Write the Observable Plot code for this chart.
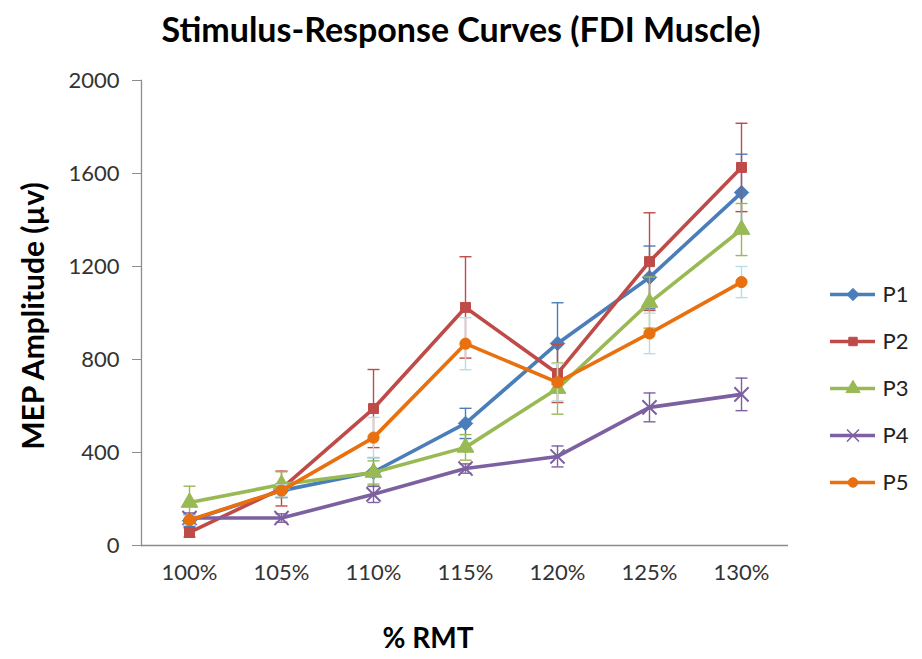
<!DOCTYPE html>
<html>
<head>
<meta charset="utf-8">
<script src="https://cdn.jsdelivr.net/npm/d3@7"></script>
<script src="https://cdn.jsdelivr.net/npm/@observablehq/plot@0.6"></script>
<style>
  html, body { margin: 0; padding: 0; background: #fff; }
  #wrap { position: relative; width: 922px; height: 659px; overflow: hidden; font-family: Lato, "Open Sans", sans-serif; }
  #wrap svg { position: absolute; }
  .title { position: absolute; left: 461px; top: 28px; transform: translate(-50%, -50%); white-space: nowrap; font-weight: bold; font-size: 34px; color: #000; }
  .ytitle { position: absolute; left: 32px; top: 316px; transform: translate(-50%, -50%) rotate(-90deg); white-space: nowrap; font-weight: bold; font-size: 30px; color: #000; }
  .xtitle { position: absolute; left: 428px; top: 637px; transform: translate(-50%, -50%); white-space: nowrap; font-weight: bold; font-size: 28px; color: #000; }
</style>
</head>
<body>
<div id="wrap">
  <div class="title">Stimulus-Response Curves (FDI Muscle)</div>
  <div class="ytitle">MEP Amplitude (µv)</div>
  <div class="xtitle">% RMT</div>
</div>
<script>
// ---- data ----
const categories = ["100%", "105%", "110%", "115%", "120%", "125%", "130%"];
const seriesNames = ["P1", "P2", "P3", "P4", "P5"];
const p1 = [107, 236, 316, 525, 869, 1153, 1518];
const p1Err = [25, 30, 62, 65, 175, 135, 165];
const p2 = [56, 245, 589, 1024, 740, 1221, 1626];
const p2Err = [20, 75, 168, 218, 125, 210, 190];
const p3 = [185, 262, 314, 422, 675, 1045, 1359];
const p3Err = [70, 55, 50, 55, 110, 110, 112];
const p4 = [118, 118, 220, 331, 383, 594, 650];
const p4Err = [22, 18, 35, 20, 45, 62, 70];
const p5 = [110, 236, 464, 868, 702, 912, 1133];
const p5Err = [20, 25, 87, 112, 80, 87, 67];
const yTicks = [0, 400, 800, 1200, 1600, 2000];

// ---- styles ----
const lineColors = ["#4A7EBB", "#BE4B48", "#98B954", "#7D60A0", "#E8700E"];
const errColors = ["#4A7EBB", "#BE4B48", "#98B954", "#7D60A0", "#B7DDE8"];
const symbols = ["diamond2", "square", "triangle", "times", "circle"];
const radii = [6.5, 5.6, 6.2, 6.5, 5.6];

const values = [p1, p2, p3, p4, p5];
const errs = [p1Err, p2Err, p3Err, p4Err, p5Err];

const series = seriesNames.map((name, i) => ({
  name,
  i,
  rows: categories.map((c, j) => ({ cat: c, v: values[i][j], e: errs[i][j] }))
}));

const capSymbol = {
  draw(context, size) {
    const r = Math.sqrt(size / Math.PI);
    context.moveTo(-r, 0);
    context.lineTo(r, 0);
  }
};

const marks = [
  Plot.ruleY([0], { stroke: "#8c8c8c", strokeWidth: 1.3 }),
  Plot.frame({ anchor: "left", stroke: "#8c8c8c", strokeWidth: 1.3 }),
  Plot.axisY({ ticks: yTicks, tickFormat: d => String(d), tickSize: 9, tickPadding: 13, stroke: "#8c8c8c", fontSize: 22, label: null, fill: "#333" }),
  Plot.axisX({ tickSize: 0, tickPadding: 19, fontSize: 22, label: null, fill: "#333" })
];

for (const s of series) {
  const i = s.i;
  marks.push(
    Plot.ruleX(s.rows, { x: "cat", y1: d => d.v - d.e, y2: d => d.v + d.e, stroke: errColors[i], strokeWidth: 1.4 }),
    Plot.dot(s.rows, { x: "cat", y: d => d.v + d.e, symbol: capSymbol, r: 6, stroke: errColors[i], strokeWidth: 1.4 }),
    Plot.dot(s.rows, { x: "cat", y: d => d.v - d.e, symbol: capSymbol, r: 6, stroke: errColors[i], strokeWidth: 1.4 }),
    Plot.line(s.rows, { x: "cat", y: "v", stroke: lineColors[i], strokeWidth: 3.6 }),
    Plot.dot(s.rows, {
      x: "cat", y: "v", symbol: symbols[i], r: radii[i],
      fill: symbols[i] === "times" ? "none" : lineColors[i],
      stroke: lineColors[i], strokeWidth: symbols[i] === "times" ? 2 : 1
    })
  );
}

const chart = Plot.plot({
  width: 922,
  height: 659,
  marginLeft: 141,
  marginRight: 134,
  marginTop: 80,
  marginBottom: 114,
  style: { fontFamily: "Lato, 'Open Sans', sans-serif", background: "transparent" },
  x: { type: "point", domain: categories, padding: 0.5 },
  y: { domain: [0, 2000] },
  marks
});
chart.style.left = "0px";
chart.style.top = "0px";
document.getElementById("wrap").appendChild(chart);

// ---- legend ----
const legendRows = series.map(s => ({ name: s.name, i: s.i }));
const legendMarks = [];
for (const s of legendRows) {
  const i = s.i;
  legendMarks.push(
    Plot.ruleY([s], { y: "name", x1: 0, x2: 1, stroke: lineColors[i], strokeWidth: 3.6 }),
    Plot.dot([s], {
      y: "name", x: 0.5, symbol: symbols[i], r: radii[i] * 0.85,
      fill: symbols[i] === "times" ? "none" : lineColors[i],
      stroke: lineColors[i], strokeWidth: symbols[i] === "times" ? 1.5 : 1
    }),
    Plot.text([s], { y: "name", x: 1, text: "name", dx: 7, textAnchor: "start", fontSize: 22, fill: "#222" })
  );
}
const legend = Plot.plot({
  width: 100,
  height: 236,
  marginLeft: 15,
  marginRight: 40,
  marginTop: 20,
  marginBottom: 27,
  style: { fontFamily: "Lato, 'Open Sans', sans-serif", background: "transparent", overflow: "visible" },
  x: { domain: [0, 1], axis: null },
  y: { type: "point", domain: seriesNames, padding: 0, axis: null },
  marks: legendMarks
});
legend.style.left = "815px";
legend.style.top = "273px";
document.getElementById("wrap").appendChild(legend);
</script>
</body>
</html>
